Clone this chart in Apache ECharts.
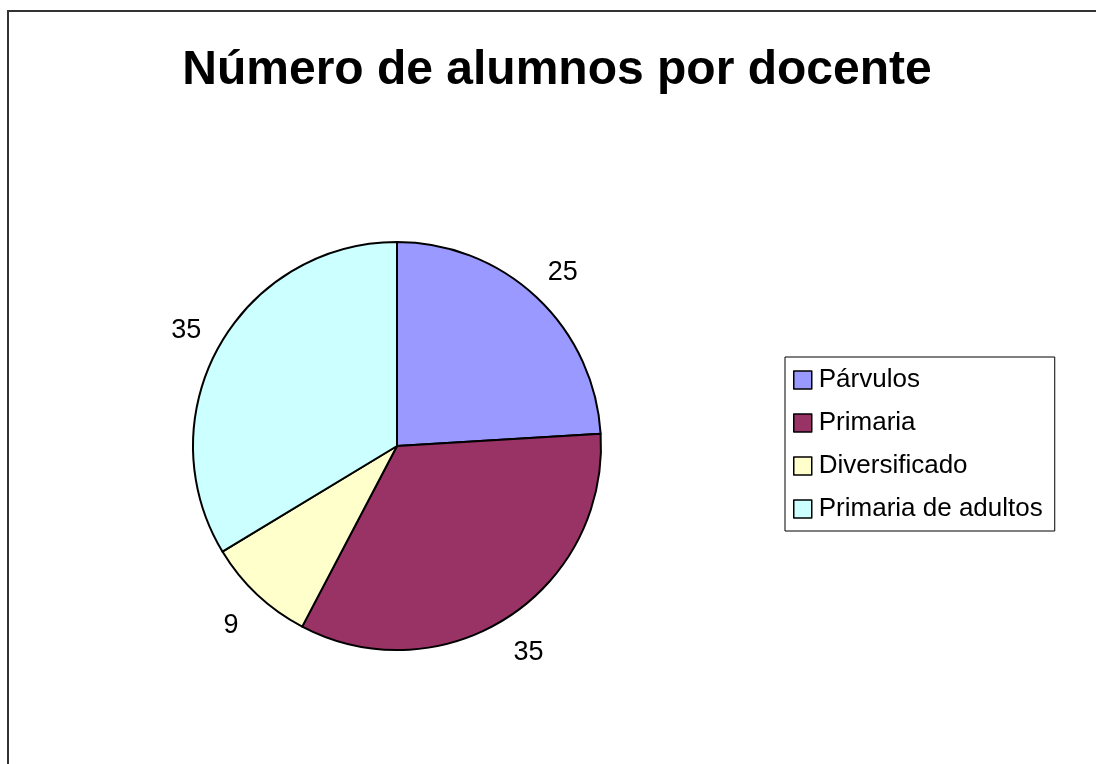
<!DOCTYPE html>
<html>
<head>
<meta charset="utf-8">
<script src="https://cdn.jsdelivr.net/npm/echarts@6/dist/echarts.min.js"></script>
<style>
html,body{margin:0;padding:0;background:#fff;}
#chart{width:1096px;height:764px;}
</style>
</head>
<body>
<div id="chart"></div>
<script>
const titleText = 'Número de alumnos por docente';
const categories = ['Párvulos', 'Primaria', 'Diversificado', 'Primaria de adultos'];
const values = [25, 35, 9, 35];
const colors = ['#9999FF', '#993366', '#FFFFCC', '#CCFFFF'];

const FONT = '"Liberation Sans", Arial, sans-serif';
const chart = echarts.init(document.getElementById('chart'), null, {renderer: 'canvas'});

const mainData = categories.map((c, i) => ({name: c, value: values[i], itemStyle: {color: colors[i]}}));
const labelData = categories.map((c, i) => ({name: c, value: values[i]}));

chart.setOption({
  animation: false,
  backgroundColor: '#ffffff',
  title: {
    text: titleText,
    left: 552,
    top: 42,
    textAlign: 'center',
    textStyle: {fontFamily: FONT, fontWeight: 'bold', fontSize: 48, color: '#000'}
  },
  graphic: [{
    type: 'rect',
    shape: {x: 8, y: 11, width: 1300, height: 1000},
    style: {fill: 'none', stroke: '#333', lineWidth: 2},
    silent: true,
    z: -1
  }],
  legend: {
    data: categories,
    orient: 'vertical',
    left: 785,
    top: 357,
    padding: [10, 12, 9, 8],
    itemGap: 17,
    itemWidth: 18,
    itemHeight: 18,
    borderColor: '#000',
    borderWidth: 1,
    icon: 'rect',
    itemStyle: {borderColor: '#000', borderWidth: 1.5},
    textStyle: {fontFamily: FONT, fontSize: 26, color: '#000', padding: [0, 0, 0, 2]}
  },
  series: [
    {
      type: 'pie',
      center: [397, 446],
      radius: 204,
      startAngle: 90,
      clockwise: true,
      avoidLabelOverlap: false,
      itemStyle: {borderColor: '#000', borderWidth: 2},
      label: {show: false},
      labelLine: {show: false},
      emphasis: {disabled: true},
      data: mainData
    },
    {
      type: 'pie',
      center: [397, 446],
      radius: [228, 250],
      startAngle: 90,
      clockwise: true,
      silent: true,
      avoidLabelOverlap: false,
      itemStyle: {color: 'rgba(0,0,0,0)', borderWidth: 0},
      label: {show: true, position: 'inside', formatter: '{c}', fontFamily: FONT, fontSize: 27, color: '#000', offset: [0, 3]},
      labelLine: {show: false},
      emphasis: {disabled: true},
      data: labelData
    }
  ]
});
</script>
</body>
</html>
